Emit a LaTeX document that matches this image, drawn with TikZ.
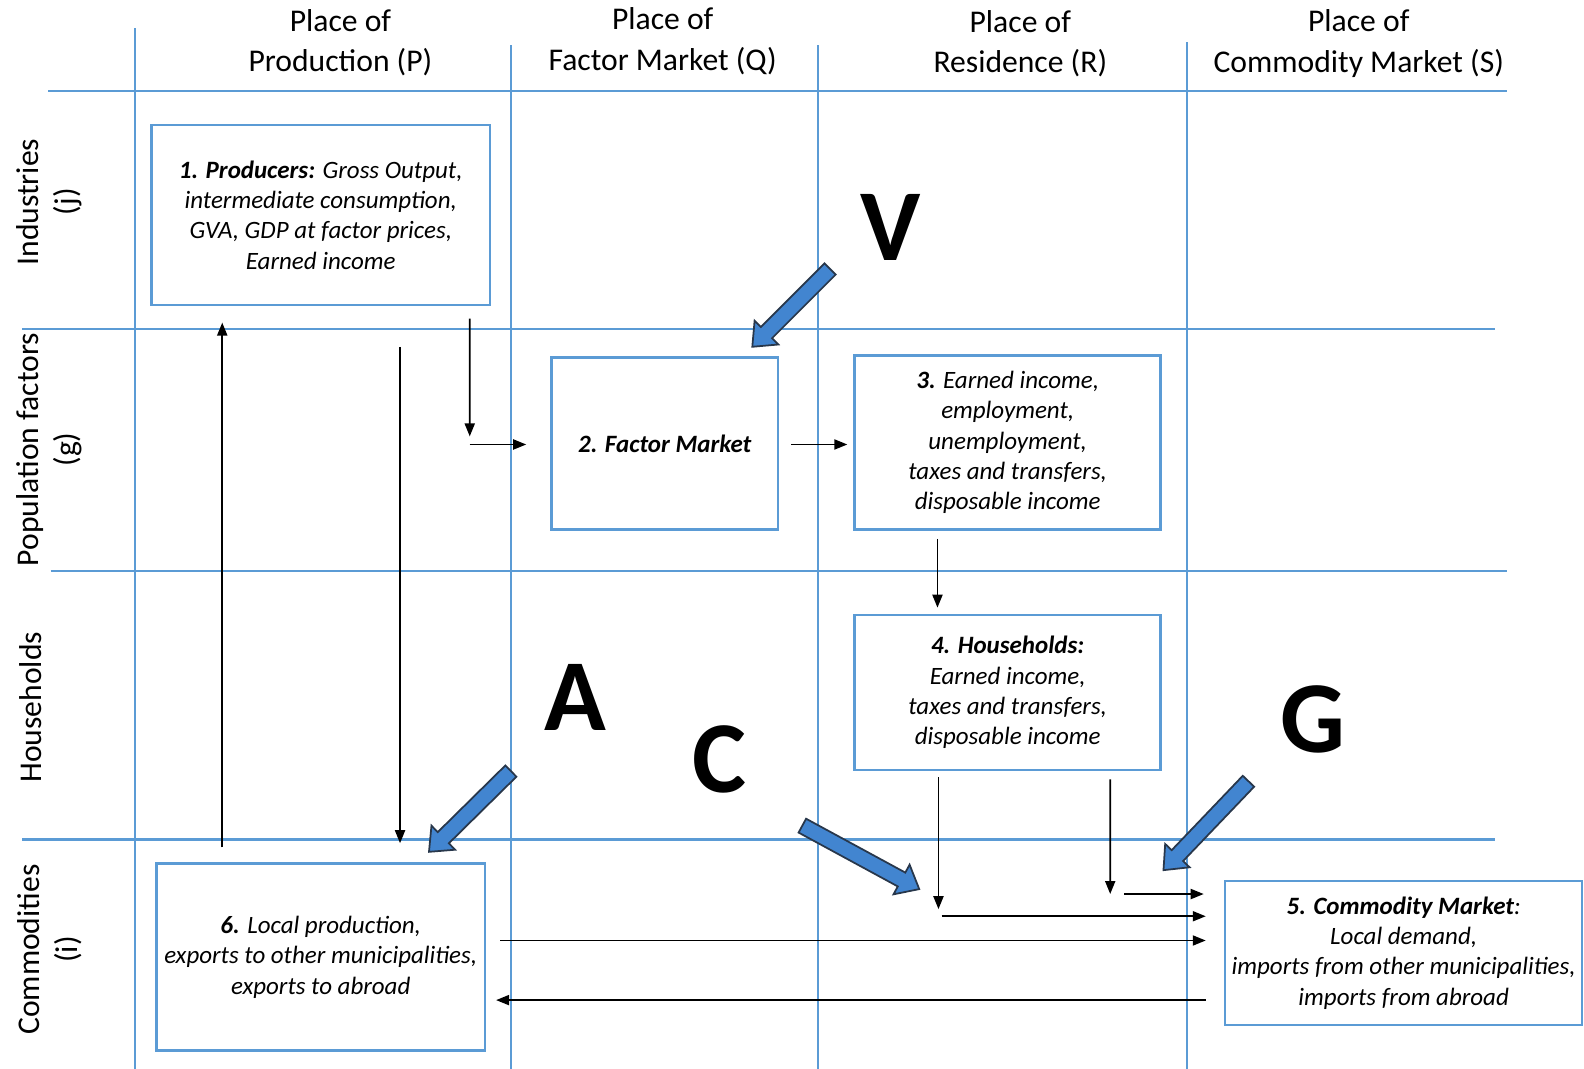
\documentclass[tikz,border=0pt]{standalone}
\usepackage{fontspec}
\setmainfont{Carlito}
\usetikzlibrary{positioning, calc, shapes.arrows, arrows.meta}
\definecolor{gridblue}{RGB}{91,155,213}
\definecolor{arrowblue}{RGB}{66,133,208}
\definecolor{arrowline}{RGB}{40,55,75}

\begin{document}
\begin{tikzpicture}[x=0.0101cm, y=-0.0101cm,
  grid/.style={gridblue, line width=0.6pt},
  box/.style={draw=gridblue, line width=0.7pt, align=center, inner sep=1pt,
    font=\fontsize{7.1}{8.6}\selectfont\itshape},
  head/.style={align=center, font=\fontsize{9}{11.5}\selectfont},
  rowlabel/.style={align=center, rotate=90, font=\fontsize{9}{10.9}\selectfont},
  flow/.style={-{Triangle[length=1.3mm,width=1.0mm]}, line width=0.55pt},
  bigletter/.style={font=\fontsize{29}{30}\selectfont\bfseries},
  pointer/.style={single arrow, draw=arrowline, fill=arrowblue, line width=0.5pt,
    minimum width=0.32cm, inner xsep=0pt, inner ysep=0.07cm,
    single arrow head extend=0.09cm, single arrow tip angle=80,
    single arrow head indent=0pt}]
  \useasboundingbox (0,0) rectangle (1568,1058);

  % table lines
  \draw[grid] (134,28) -- (134,1058);
  \draw[grid] (506,45) -- (506,1058);
  \draw[grid] (810,45) -- (810,1058);
  \draw[grid] (1175,42) -- (1175,1058);
  \draw[grid] (48,90) -- (1492,90);
  \draw[grid] (22,326) -- (1480,326);
  \draw[grid] (50,565) -- (1492,565);
  \draw[grid] (22,831) -- (1480,831);

  % column and row heads
  \node[head] (colP) at (337,42) {Place of\\Production (P)};
  \node[head] (colQ) at (656,41) {Place of\\Factor Market (Q)};
  \node[head] (colR) at (1010,43) {Place of\\Residence (R)};
  \node[head] (colS) at (1345,43) {Place of\\Commodity Market (S)};
  \node[rowlabel] (rowj) at (49,200) {Industries\\(j)};
  \node[rowlabel] (rowg) at (49,445) {Population factors\\(g)};
  \node[rowlabel] (rowh) at (30,700) {Households};
  \node[rowlabel] (rowi) at (49,940) {Commodities\\(i)};

  % accounts
  \node[box, minimum width=3.38cm, minimum height=1.80cm] (prod) at (317.5,213)
    {\textbf{1. Producers:} Gross Output,\\intermediate consumption,\\GVA, GDP at factor prices,\\Earned income};
  \node[box, minimum width=2.26cm, minimum height=1.72cm] (factor) at (658,439)
    {\textbf{2. Factor Market}};
  \node[box, minimum width=3.06cm, minimum height=1.74cm] (income) at (997.5,438)
    {\textbf{3.} Earned income,\\employment,\\unemployment,\\taxes and transfers,\\disposable income};
  \node[box, minimum width=3.06cm, minimum height=1.55cm] (house) at (997.5,685.5)
    {\textbf{4. Households:}\\Earned income,\\taxes and transfers,\\disposable income};
  \node[box, minimum width=3.28cm, minimum height=1.87cm] (local) at (317.5,947.5)
    {\textbf{6.} Local production,\\exports to other municipalities,\\exports to abroad};
  \node[box, minimum width=3.57cm, minimum height=1.44cm] (commod) at (1389.5,943.5)
    {\textbf{5. Commodity Market}:\\Local demand,\\imports from other municipalities,\\imports from abroad};

  % flows
  \coordinate (pq) at (465,440);
  \coordinate (hc) at (929,907);
  \coordinate (hg) at (1099,885);
  \draw[flow] ($(local.north)+(-97.5,-15)$) -- ($(prod.south)+(-97.5,16)$);
  \draw[flow] ($(prod.south)+(78.5,40)$) -- ($(local.north)+(78.5,-19)$);
  \draw[flow] ($(prod.south)+(147.5,12)$) -- ($(pq)+(0,-8)$);
  \draw[flow] (pq) -- ($(factor.west)+(-24,1)$);
  \draw[flow] ($(factor.east)+(12,1)$) -- ($(income.west)+(-6,2)$);
  \draw[flow] ($(income.south)+(-69.5,8)$) -- ($(house.north)+(-69.5,-6)$);
  \draw[flow] ($(house.south)+(-68.5,6)$) -- ($(hc)+(0,-7)$);
  \draw[flow] ($(hc)+(3,0)$) -- ($(commod.west)+(-18,-36.5)$);
  \draw[flow] ($(house.south)+(101.5,8)$) -- (hg);
  \draw[flow] ($(hg)+(14,0)$) -- ($(commod.west)+(-20,-58.5)$);
  \draw[flow] ($(local.east)+(14,-16.5)$) -- ($(commod.west)+(-18,-12.5)$);
  \draw[flow] ($(commod.west)+(-18,46.5)$) -- ($(local.east)+(10,42.5)$);

  % pointers
  \coordinate (vtail) at (825,263);
  \coordinate (vtip) at (748,340);
  \coordinate (atail) at (509,760);
  \coordinate (atip) at (428,840);
  \coordinate (ctail) at (790,815);
  \coordinate (ctip) at (906,878);
  \coordinate (gtail) at (1239,770);
  \coordinate (gtip) at (1155,858);
  \node[pointer, minimum height=1.10cm, rotate=225] (ptrV) at ($(vtail)!0.5!(vtip)$) {};
  \node[pointer, minimum height=1.15cm, rotate=224.6] (ptrA) at ($(atail)!0.5!(atip)$) {};
  \node[pointer, minimum height=1.33cm, rotate=-28.5] (ptrC) at ($(ctail)!0.5!(ctip)$) {};
  \node[pointer, minimum height=1.23cm, rotate=226.3] (ptrG) at ($(gtail)!0.5!(gtip)$) {};
  \node[bigletter] (labV) at (882,225) {V};
  \node[bigletter] (labA) at (570,690) {A};
  \node[bigletter] (labC) at (712,752) {C};
  \node[bigletter] (labG) at (1300,712) {G};
\end{tikzpicture}
\end{document}
